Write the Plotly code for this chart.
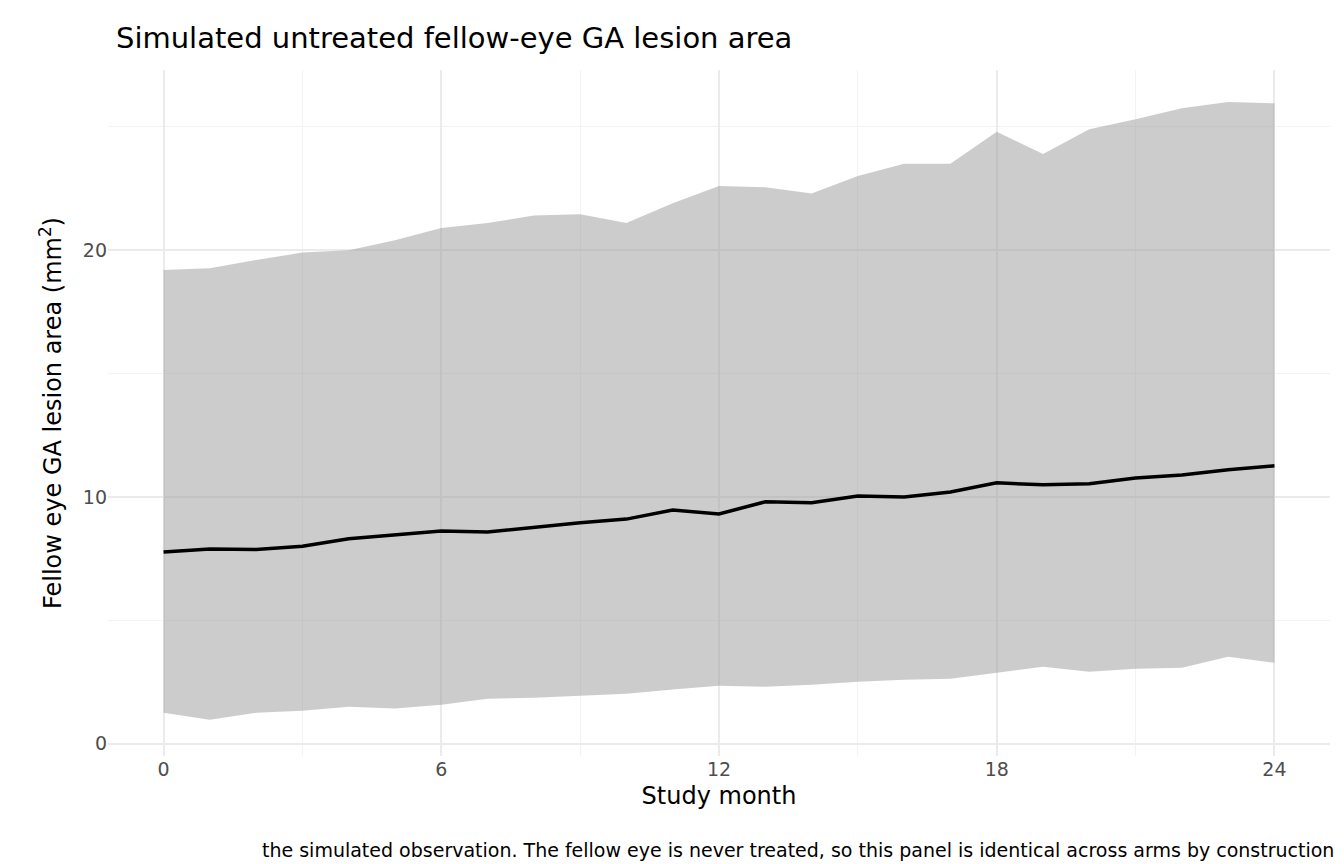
import plotly.graph_objects as go

months = list(range(25))
mean = [7.77,7.89,7.87,8.0,8.3,8.46,8.62,8.58,8.78,8.95,9.1,9.47,9.31,9.8,9.76,10.04,10.0,10.2,10.57,10.49,10.53,10.77,10.89,11.1,11.26]
upper = [19.19,19.27,19.6,19.9,20.0,20.4,20.9,21.1,21.4,21.45,21.1,21.9,22.6,22.55,22.3,23.0,23.5,23.5,24.8,23.9,24.9,25.3,25.75,26.0,25.95]
lower = [1.25,0.97,1.25,1.33,1.5,1.42,1.58,1.82,1.86,1.94,2.02,2.19,2.35,2.31,2.39,2.51,2.59,2.63,2.87,3.12,2.91,3.04,3.08,3.52,3.28]

fig = go.Figure()
fig.add_trace(go.Scatter(x=months, y=lower, mode="lines", line=dict(width=0), showlegend=False, hoverinfo="skip"))
fig.add_trace(go.Scatter(x=months, y=upper, mode="lines", line=dict(width=0), fill="tonexty",
                         fillcolor="rgba(153,153,153,0.5)", showlegend=False))
fig.add_trace(go.Scatter(x=months, y=mean, mode="lines", line=dict(color="black", width=3.5), showlegend=False))

fig.update_layout(
    width=1344, height=864, plot_bgcolor="white", paper_bgcolor="white",
    margin=dict(l=100, r=22, t=62, b=116),
    font=dict(family="DejaVu Sans", color="black"),
    title=dict(text="Simulated untreated fellow-eye GA lesion area", x=108/1344, xanchor="left",
               y=0.966, yanchor="middle", font=dict(size=29)),
    xaxis=dict(range=[-1.2, 25.2], tickvals=[0,6,12,18,24], showgrid=True, gridcolor="#ebebeb", gridwidth=1.5,
               minor=dict(tickvals=[3,9,15,21], showgrid=True, gridcolor="#f3f3f3", gridwidth=0.8),
               zeroline=False, ticks="", tickfont=dict(size=19, color="#4d4d4d"),
               title=dict(text="Study month", font=dict(size=24), standoff=8)),
    yaxis=dict(range=[-0.5, 27.3], tickvals=[0,10,20], showgrid=True, gridcolor="#ebebeb", gridwidth=1.5,
               minor=dict(tickvals=[5,15,25], showgrid=True, gridcolor="#f3f3f3", gridwidth=0.8),
               zeroline=False, ticks="", tickfont=dict(size=19, color="#4d4d4d"),
               title=dict(text="Fellow eye GA lesion area (mm<sup>2</sup>)", font=dict(size=24), standoff=14)),
    annotations=[dict(text="the simulated observation. The fellow eye is never treated, so this panel is identical across arms by construction.",
                      xref="paper", yref="paper", x=1.01, y=-0.137, xanchor="right", yanchor="middle",
                      showarrow=False, font=dict(size=19))],
)
fig.write_html("out.html")
